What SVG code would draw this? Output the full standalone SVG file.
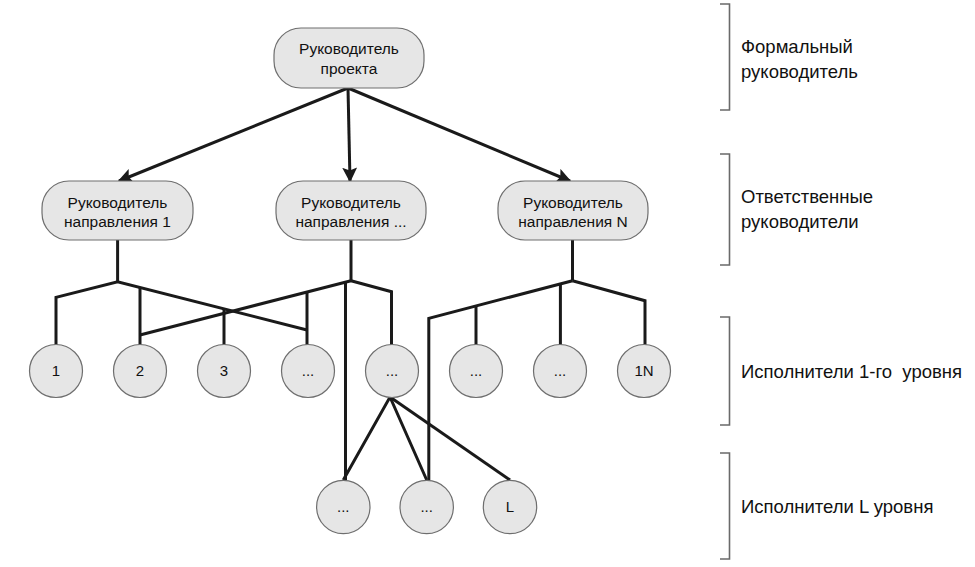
<svg xmlns="http://www.w3.org/2000/svg" width="975" height="567" viewBox="0 0 975 567">
<defs>
<style>
.box{fill:#e6e6e6;stroke:#6e6e6e;stroke-width:1.2}
.t{font-family:"Liberation Sans",Arial,sans-serif;font-size:15.5px;fill:#111;text-anchor:middle}
.c{font-family:"Liberation Sans",Arial,sans-serif;font-size:15px;fill:#111;text-anchor:middle}
.lbl{font-family:"Liberation Sans",Arial,sans-serif;font-size:18.5px;fill:#111}
.br{fill:none;stroke:#6a6a6a;stroke-width:1.6}
.ln{fill:none;stroke:#1a1a1a;stroke-width:3;stroke-linejoin:miter}
</style>
<marker id="arr" viewBox="0 0 10 10" refX="9" refY="5" markerWidth="5" markerHeight="5" markerUnits="strokeWidth" orient="auto">
<path d="M0,0 L10,5 L0,10 L2,5 Z" fill="#1a1a1a"/>
</marker>
</defs>
<rect width="975" height="567" fill="#fff"/>

<g id="connectors">
<line class="ln" x1="348" y1="88" x2="119" y2="181" marker-end="url(#arr)"/>
<line class="ln" x1="348" y1="88" x2="350" y2="181" marker-end="url(#arr)"/>
<line class="ln" x1="348" y1="88" x2="570" y2="181" marker-end="url(#arr)"/>
<polyline class="ln" points="117.6,240 117.6,281.7"/>
<polyline class="ln" points="56,345 56,297.3 117.6,281.7 307,330"/>
<polyline class="ln" points="140,287.5 140,345"/>
<polyline class="ln" points="224,309 224,345"/>
<polyline class="ln" points="307,292 307,345"/>
<polyline class="ln" points="351,240 351,280.7"/>
<polyline class="ln" points="351,280.7 140,335"/>
<polyline class="ln" points="351,280.7 391.5,291.7 391.5,345"/>
<polyline class="ln" points="345.5,282.3 345.5,480"/>
<polyline class="ln" points="572.5,240 572.5,280.7"/>
<polyline class="ln" points="572.5,280.7 428.8,318.3 428.8,480"/>
<polyline class="ln" points="476,306 476,345"/>
<polyline class="ln" points="560.4,283.9 560.4,345"/>
<polyline class="ln" points="572.5,280.7 645,300.7 645,345"/>
<polyline class="ln" points="343.3,480 390,397 426.7,480"/>
<polyline class="ln" points="390,397 510,480"/>
</g>

<g id="n-top"><rect class="box" x="274" y="28" width="150" height="60" rx="27"/>
<text class="t" x="349" y="54">Руководитель</text><text class="t" x="349" y="74">проекта</text></g>
<g id="n-d1"><rect class="box" x="42" y="181" width="151" height="59" rx="27"/>
<text class="t" x="117.5" y="208">Руководитель</text><text class="t" x="117.5" y="227">направления 1</text></g>
<g id="n-d2"><rect class="box" x="276" y="181" width="150" height="59" rx="27"/>
<text class="t" x="351" y="208">Руководитель</text><text class="t" x="351" y="227">направления ...</text></g>
<g id="n-dN"><rect class="box" x="498" y="181" width="150" height="59" rx="27"/>
<text class="t" x="573" y="208">Руководитель</text><text class="t" x="573" y="227">направления N</text></g>

<g id="e1"><circle class="box" cx="56" cy="371" r="26.5"/><text class="c" x="56" y="376">1</text></g>
<g id="e2"><circle class="box" cx="140" cy="371" r="26.5"/><text class="c" x="140" y="376">2</text></g>
<g id="e3"><circle class="box" cx="224" cy="371" r="26.5"/><text class="c" x="224" y="376">3</text></g>
<g id="e4"><circle class="box" cx="308" cy="371" r="26.5"/><text class="c" x="308" y="376">...</text></g>
<g id="e5"><circle class="box" cx="392" cy="371" r="26.5"/><text class="c" x="392" y="376">...</text></g>
<g id="e6"><circle class="box" cx="476" cy="371" r="26.5"/><text class="c" x="476" y="376">...</text></g>
<g id="e7"><circle class="box" cx="560" cy="371" r="26.5"/><text class="c" x="560" y="376">...</text></g>
<g id="e8"><circle class="box" cx="644" cy="371" r="26.5"/><text class="c" x="644" y="376">1N</text></g>

<g id="l1"><circle class="box" cx="343.3" cy="507" r="26.7"/><text class="c" x="343.3" y="512">...</text></g>
<g id="l2"><circle class="box" cx="426.7" cy="507" r="26.7"/><text class="c" x="426.7" y="512">...</text></g>
<g id="l3"><circle class="box" cx="510" cy="507" r="26.7"/><text class="c" x="510" y="512">L</text></g>

<g id="legend">
<polyline class="br" points="720,4 729.5,4 729.5,110 720,110"/>
<polyline class="br" points="720,154 729.5,154 729.5,265 720,265"/>
<polyline class="br" points="720,317 729.5,317 729.5,425 720,425"/>
<polyline class="br" points="720,453 729.5,453 729.5,559 720,559"/>
<text class="lbl" x="741" y="53">Формальный</text>
<text class="lbl" x="741" y="78">руководитель</text>
<text class="lbl" x="741" y="203">Ответственные</text>
<text class="lbl" x="741" y="228">руководители</text>
<text class="lbl" x="741" y="378" xml:space="preserve">Исполнители 1-го  уровня</text>
<text class="lbl" x="741" y="513">Исполнители L уровня</text>
</g>
</svg>
